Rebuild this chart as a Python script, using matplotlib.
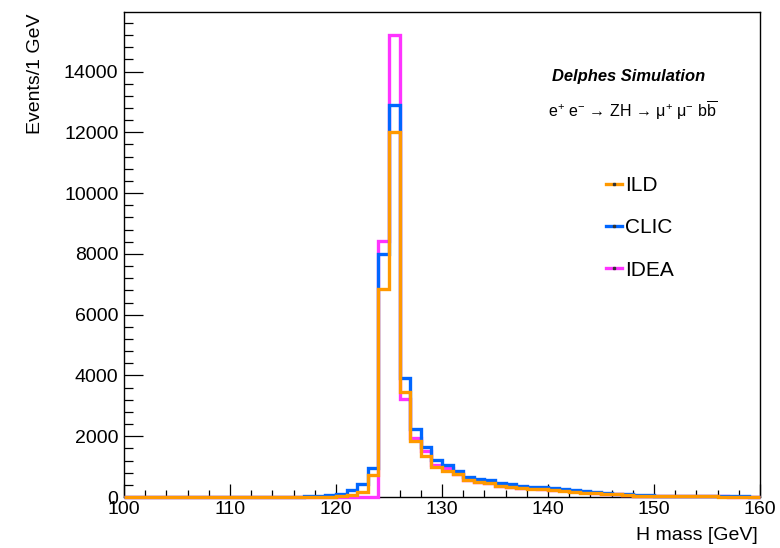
import numpy as np
import matplotlib
matplotlib.use("Agg")
import matplotlib.pyplot as plt
from matplotlib.lines import Line2D
from matplotlib.ticker import MultipleLocator

plt.rcParams['font.family'] = ['Liberation Sans', 'DejaVu Sans']
plt.rcParams['mathtext.fontset'] = 'custom'
plt.rcParams['mathtext.rm'] = 'Liberation Sans'
plt.rcParams['mathtext.it'] = 'Liberation Sans:italic'
plt.rcParams['mathtext.bf'] = 'Liberation Sans:bold'

# Binning: 1 GeV bins from 100 to 160 GeV
bin_edges = np.arange(100, 161, 1)

# Reconstructed Higgs mass, events per 1 GeV bin (100 ... 159)
ild = [3, 3, 3, 3, 3, 3, 3, 3, 3, 3,
       3, 3, 3, 3, 3, 3, 4, 5, 8, 15,
       30, 80, 160, 720, 6830, 12000, 3460, 1850, 1340, 980,
       840, 750, 550, 495, 450, 360, 325, 300, 270, 258,
       235, 213, 180, 146, 123, 112, 90, 78, 45, 34,
       30, 28, 25, 22, 20, 18, 16, 14, 12, 10]
clic = [3, 3, 3, 3, 3, 3, 3, 3, 3, 3,
        3, 3, 4, 5, 6, 8, 12, 20, 40, 70,
        110, 220, 420, 940, 8010, 12900, 3920, 2250, 1650, 1220,
        1060, 840, 660, 595, 550, 460, 415, 370, 335, 315,
        290, 270, 225, 190, 157, 134, 112, 90, 67, 56,
        45, 40, 35, 30, 28, 25, 22, 20, 18, 15]
idea = [1, 1, 1, 1, 1, 1, 1, 1, 1, 1,
        1, 1, 1, 1, 1, 1, 1, 1, 2, 2,
        3, 4, 5, 10, 8430, 15200, 3220, 1930, 1500, 1060,
        970, 770, 570, 510, 460, 370, 335, 310, 280, 265,
        240, 220, 185, 150, 128, 115, 93, 80, 48, 37,
        32, 29, 26, 23, 21, 19, 17, 15, 13, 11]

labels = ["ILD", "CLIC", "IDEA"]
colors = {"ILD": "#ff9900", "CLIC": "#0066ff", "IDEA": "#ff33ff"}

fig = plt.figure(figsize=(7.8, 5.48), dpi=100)
ax = fig.add_axes([124/780, 1-497/548, (760-124)/780, (497-12)/548])

lw = 2.4
for name, vals in (("IDEA", idea), ("CLIC", clic), ("ILD", ild)):
    ax.stairs(vals, bin_edges, color=colors[name], lw=lw, baseline=0,
              clip_on=False, zorder=3)

ymax = 1.05 * max(max(ild), max(clic), max(idea))
ax.set_xlim(100, 160)
ax.set_ylim(0, ymax)

ax.xaxis.set_major_locator(MultipleLocator(10))
ax.xaxis.set_minor_locator(MultipleLocator(2))
ax.yaxis.set_major_locator(MultipleLocator(2000))
ax.yaxis.set_minor_locator(MultipleLocator(400))
ax.tick_params(axis='x', which='major', direction='in', length=9.5, width=0.9,
               labelsize=14, pad=3)
ax.tick_params(axis='x', which='minor', direction='in', length=4.8, width=0.9)
ax.tick_params(axis='y', which='major', direction='in', length=13.5, width=0.9,
               labelsize=14, pad=4)
ax.tick_params(axis='y', which='minor', direction='in', length=6.8, width=0.9)
for s in ax.spines.values():
    s.set_linewidth(1.0)

fig.text(35/780, 1-14/548, "Events/1 GeV", rotation=90, ha='center', va='top',
         fontsize=14)
fig.text(758/780, 1-535/548, "H mass [GeV]", ha='right', va='center', fontsize=14)

fig.text(552/780, 1-77/548, "Delphes Simulation", fontsize=11.9,
         fontweight='bold', fontstyle='italic', ha='left', va='center')
fig.text(548/780, 1-111/548,
         "e$^{+}$ e$^{-}$ \u2192 ZH \u2192 \u03bc$^{+}$ \u03bc$^{-}$ "
         r"b$\overline{\mathrm{b}}$",
         fontsize=11.5, ha='left', va='center')

handles = [Line2D([], [], color=colors[n], lw=lw, marker='s', markersize=1.6,
                  markerfacecolor='#333333', markeredgecolor='#333333')
           for n in labels]
fig.legend(handles, labels, loc='upper left',
           bbox_to_anchor=(606/780, 1-176/548), bbox_transform=fig.transFigure,
           frameon=False, fontsize=15, handlelength=0.78, handletextpad=0.12,
           labelspacing=1.12, borderpad=0, borderaxespad=0)

fig.savefig("out.png", dpi=100)
